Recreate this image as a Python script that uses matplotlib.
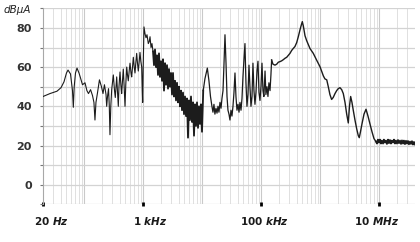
import matplotlib
matplotlib.use("Agg")
import matplotlib.pyplot as plt
import matplotlib.transforms as mtransforms
from matplotlib.ticker import FixedLocator, NullFormatter
import numpy as np

# ---------------- data ----------------
# 20 Hz .. 1.4 kHz
low_freq_hz = [20, 26.3, 34.5, 40.4, 45.4, 50, 53.1, 58.5, 63.2, 65.3, 67.6, 71.1, 75.4, 81.5,
               86.4, 93.4, 103, 111, 118, 128, 138, 146, 152, 158, 168, 181, 196, 208, 220, 234,
               240, 248, 258, 266, 273, 282, 292, 311, 326, 336, 355, 367, 378, 388, 404, 420,
               431, 445, 459, 475, 491, 506, 525, 541, 558, 578, 597, 621, 637, 658, 679, 703,
               725, 748, 774, 799, 825, 855, 881, 910, 942, 964, 979, 998, 1030, 1072, 1114,
               1158, 1219, 1263, 1303, 1355, 1407]
low_level_db = [45, 46.5, 47.7, 49.5, 52.5, 57, 58.5, 56.5, 48, 39.5, 50, 57, 59.5, 57,
                54.5, 51, 52, 48, 46.5, 48.5, 45.5, 42, 33, 42, 47, 53.5, 50, 46.5, 51, 46,
                40, 45, 49, 40, 25.5, 40, 48.5, 56, 48, 44.5, 55, 47, 40, 50, 57.5, 50,
                46.5, 53, 59, 50, 40, 51, 60, 56, 53, 58, 62, 57, 55, 60, 65, 60,
                57, 62, 67, 62, 58, 63, 67.5, 63, 60, 48, 42, 60, 80.5, 77, 75,
                76.5, 72, 73, 75.5, 70, 72]

# 1.46 kHz .. 10 kHz dense noise band
band_freq_hz = [1464, 1522, 1583, 1646, 1711, 1780, 1850, 1924, 2001, 2080, 2163, 2249, 2339,
                2432, 2529, 2629, 2734, 2843, 2956, 3073, 3196, 3323, 3455, 3593, 3736, 3884,
                4039, 4200, 4367, 4540, 4721, 4909, 5104, 5307, 5519, 5738, 5967, 6204, 6451,
                6708, 6975, 7252, 7541, 7841, 8153, 8478, 8815, 9166, 9531, 9910]
band_level_db = [68, 61, 69, 60, 66, 56, 67, 55, 63, 53, 64, 48, 62,
                 51, 61, 49, 59, 50, 57, 46, 57, 45, 53, 43, 52, 42,
                 50, 40, 48, 38, 47, 36, 45, 35, 44, 24, 43, 33, 45,
                 32, 42, 25, 41, 30, 42, 29, 40, 31, 41, 27]

# 10 kHz .. 150 kHz (spikes)
mid_freq_hz = [10.4e3, 11.1e3, 12.2e3, 13.0e3, 13.8e3, 14.6e3, 15.2e3, 15.8e3, 16.4e3, 17.1e3,
               17.8e3, 18.5e3, 19.2e3, 20.0e3, 20.8e3, 21.6e3, 22.5e3, 23.4e3, 24.3e3, 25.3e3,
               26.3e3, 27.3e3, 28.4e3, 29.5e3, 30.7e3, 31.9e3, 33.2e3, 34.5e3, 35.9e3, 37.3e3,
               38.8e3, 40.4e3, 42.0e3, 43.6e3, 45.4e3, 47.2e3, 49.0e3, 51.0e3, 53.0e3, 55.1e3,
               57.3e3, 59.6e3, 62.0e3, 64.4e3, 67.0e3, 69.7e3, 72.4e3, 75.3e3, 78.3e3, 81.4e3,
               84.7e3, 88.1e3, 91.6e3, 95.2e3, 99.0e3, 103e3, 107e3, 111e3, 116e3, 120e3,
               125e3, 130e3, 135e3, 141e3, 146e3]
mid_level_db = [48, 54, 59.5, 53, 45, 40, 37, 41, 36, 39,
                36.5, 40, 37, 42, 39, 44, 48, 62, 76.5, 62,
                45, 38, 36, 33, 38, 35, 40, 47, 57, 45,
                38, 41, 37, 42, 38, 44, 55, 64, 72, 52,
                40, 46, 61, 50, 40, 45, 62, 48, 41, 47,
                58, 63, 47, 43, 50, 62, 48, 45, 58, 46,
                50, 45, 52, 48, 56]

# 150 kHz .. 8 MHz
high_freq_hz = [150e3, 158e3, 171e3, 183e3, 195e3, 208e3, 222e3, 237e3, 253e3, 270e3, 288e3,
                307e3, 328e3, 349e3, 373e3, 399e3, 425e3, 454e3, 478e3, 497e3, 517e3, 552e3,
                589e3, 670e3, 763e3, 871e3, 991e3, 1.13e6, 1.20e6, 1.29e6, 1.37e6, 1.46e6,
                1.56e6, 1.66e6, 1.78e6, 1.90e6, 2.02e6, 2.16e6, 2.31e6, 2.46e6, 2.63e6, 2.81e6,
                2.99e6, 3.13e6, 3.28e6, 3.45e6, 3.63e6, 3.88e6, 4.15e6, 4.42e6, 4.59e6, 4.81e6,
                5.10e6, 5.52e6, 5.97e6, 6.45e6, 6.97e6, 7.54e6, 8.15e6]
high_level_db = [63.6, 61.5, 61, 61.5, 62.5, 62.8, 63.2, 63.8, 64.5, 65, 66,
                 67, 68.5, 69.5, 70.5, 72.5, 75.5, 79, 81.5, 83.2, 81, 76,
                 73.5, 69.5, 67, 63.5, 60.2, 55.5, 54, 53.5, 50, 46,
                 43.5, 44.5, 46.5, 48, 49, 49.5, 48.5, 46.5, 42, 36,
                 31.5, 40, 45, 42, 38, 33, 28.5, 25, 24, 27,
                 31, 36, 38.5, 35, 31, 27, 23.5]

# 8.8 MHz .. 40 MHz noise floor
floor_freq_hz = [8.81e6, 9.16e6, 9.52e6, 9.90e6, 10.3e6, 10.7e6, 11.1e6, 11.6e6, 12.0e6, 12.5e6,
                 13.0e6, 13.5e6, 14.1e6, 14.6e6, 15.2e6, 15.8e6, 16.4e6, 17.1e6, 17.8e6, 18.5e6,
                 19.2e6, 20.0e6, 20.8e6, 21.6e6, 22.5e6, 23.4e6, 24.3e6, 25.3e6, 26.2e6, 27.3e6,
                 28.4e6, 29.5e6, 30.7e6, 31.9e6, 33.2e6, 34.5e6, 35.9e6, 37.3e6, 38.8e6, 40.4e6]
floor_level_db = [22, 21, 23, 21.5, 23, 21, 22.5, 21, 23, 21.5,
                  22.5, 20.8, 23, 21.2, 22.8, 21, 22.5, 21.5, 23, 21,
                  22.5, 21, 22.8, 21.2, 22.5, 20.8, 22.6, 21, 22.5, 20.7,
                  22.4, 21, 22.3, 20.6, 22, 20.8, 22.2, 20.5, 21.8, 20.5]

x_tick_freqs = [20, 1e3, 1e5, 1e7]
x_tick_labels = ['20 $\\mathit{Hz}$', '1 $\\mathit{kHz}$', '100 $\\mathit{kHz}$', '10 $\\mathit{MHz}$']
y_tick_values = [0, 20, 40, 60, 80]
y_tick_labels = ['0', '20', '40', '60', '80']

# ---------------- drawing ----------------
plt.rcParams['mathtext.fontset'] = 'custom'
plt.rcParams['mathtext.it'] = 'DejaVu Sans:italic:bold'
plt.rcParams['mathtext.rm'] = 'DejaVu Sans:bold'

fig = plt.figure(figsize=(4.2, 2.42), dpi=100)
ax = fig.add_axes([43 / 420, 1 - 204.3 / 242, (415 - 43) / 420, (204.3 - 8.3) / 242])

ax.set_xscale('log')
ax.set_xlim(20, 4.04e7)
ax.set_ylim(-10, 90)

# grid
minor_x = [m * 10 ** e for e in range(1, 8) for m in range(2, 10) if 20 < m * 10 ** e < 4.04e7]
major_x = [10 ** e for e in range(2, 8)]
for fx in minor_x:
    ax.axvline(fx, color='#e0e0e0', lw=0.7, zorder=0)
for fx in major_x:
    ax.axvline(fx, color='#c9c9c9', lw=0.8, zorder=0)
for yv in range(-10, 91, 10):
    ax.axhline(yv, color='#d3d3d3', lw=0.9, zorder=0)

line_kw = dict(color='#1c1c1c', zorder=3)
ax.plot(low_freq_hz + band_freq_hz[:1], low_level_db + band_level_db[:1], lw=0.8, **line_kw)
ax.plot(band_freq_hz + mid_freq_hz[:1], band_level_db + mid_level_db[:1], lw=1.3, **line_kw)
ax.plot(mid_freq_hz + high_freq_hz[:1], mid_level_db + high_level_db[:1], lw=0.9, **line_kw)
ax.plot(high_freq_hz + floor_freq_hz[:1], high_level_db + floor_level_db[:1], lw=1.0, **line_kw)
ax.plot(floor_freq_hz, floor_level_db, lw=1.3, **line_kw)

for s in ['top', 'right', 'bottom']:
    ax.spines[s].set_visible(False)
ax.spines['left'].set_color('#a8a8a8')
ax.spines['left'].set_linewidth(0.8)

ax.xaxis.set_major_locator(FixedLocator(x_tick_freqs))
ax.xaxis.set_minor_locator(FixedLocator([]))
ax.set_xticklabels(x_tick_labels)
ax.tick_params(axis='x', which='major', direction='inout', length=2.2, width=2.0,
               color='black', pad=6.5, labelsize=7.5, labelcolor='#1a1a1a')
for lab in ax.get_xticklabels():
    lab.set_fontweight('bold')

offsets_px = [8, 7, 3, -3]
for lab, dx in zip(ax.get_xticklabels(), offsets_px):
    lab.set_transform(lab.get_transform() + mtransforms.ScaledTranslation(dx / 100, 0, fig.dpi_scale_trans))

ax.yaxis.set_major_locator(FixedLocator(y_tick_values))
ax.yaxis.set_minor_locator(FixedLocator([-10, 10, 30, 50, 70, 90]))
ax.yaxis.set_minor_formatter(NullFormatter())
ax.set_yticklabels(y_tick_labels)
ax.tick_params(axis='y', which='both', direction='out', length=2.5, width=0.8,
               color='#777777', pad=5.5, labelsize=8, labelcolor='#333333')
for lab in ax.get_yticklabels():
    lab.set_fontweight('bold')

fig.text(4 / 420, 1 - 10 / 242, 'dBμA', fontsize=7.5, style='italic', color='#222222',
         va='center', ha='left')

fig.savefig('out.png', dpi=100)
